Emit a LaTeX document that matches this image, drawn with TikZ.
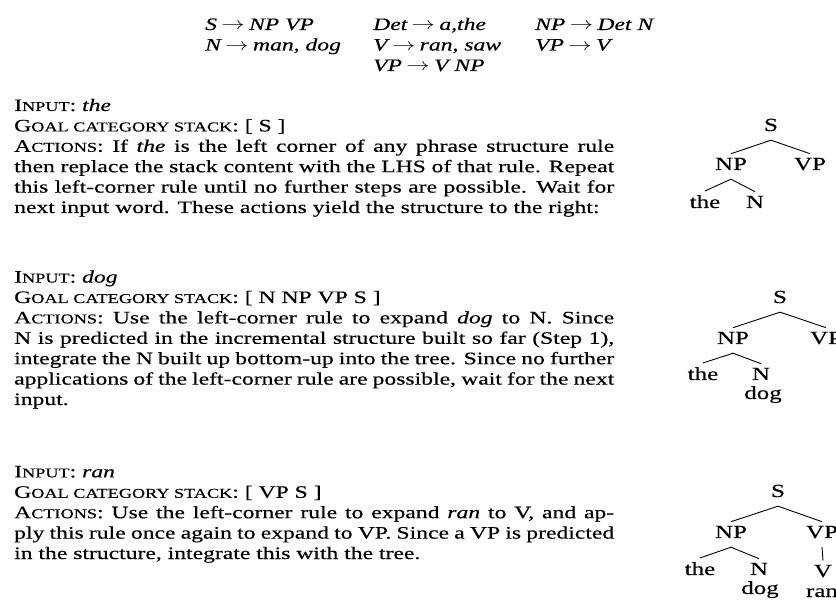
\documentclass[tikz,border=0pt]{standalone}
\usepackage{fontspec}
\usepackage{graphicx}
\setmainfont[FakeStretch=1.35,FakeBold=0.4]{Liberation Serif}
\newcommand{\smc}[1]{{\fontsize{13.5}{20.4}\selectfont #1}}
\newcommand{\arr}{\hspace{0.25em}\scalebox{1.35}[1]{$\rightarrow$}\hspace{0.25em}}
\newcommand{\jl}[1]{\makebox[600pt][s]{#1}}

\begin{document}
\begin{tikzpicture}[x=1pt,y=-1pt]
\tikzset{txt/.style={anchor=base west, inner sep=0pt, align=left, font=\fontsize{17.5}{20.4}\selectfont},
  gram/.style={anchor=base west, inner sep=0pt, font=\fontsize{17.5}{20.4}\selectfont\itshape},
  cat/.style={anchor=base, inner xsep=0pt, inner ysep=4pt, text depth=5pt, font=\fontsize{18.5}{20}\selectfont},
  branch/.style={line width=0.9pt}}
\useasboundingbox (0,0) rectangle (836,601);

% grammar
\node[gram] (g1) at (205,30) {S\arr NP VP};
\node[gram] (g2) at (373,30) {Det\arr a,the};
\node[gram] (g3) at (535,30) {NP\arr Det N};
\node[gram] (g4) at (205,50.5) {N\arr man, dog};
\node[gram] (g5) at (373,50.5) {V\arr ran, saw};
\node[gram] (g6) at (535,50.5) {VP\arr V};
\node[gram] (g7) at (373,71) {VP\arr V NP};

% step 1 (anchored on the last line)
\node[txt] (b1) at (14,213) {I\smc{NPUT}: \textit{the}\\
  G\smc{OAL CATEGORY STACK}: [ S ]\\
  \jl{A\smc{CTIONS}: If \textit{the} is the left corner of any phrase structure rule}\\
  \jl{then replace the stack content with the LHS of that rule. Repeat}\\
  \jl{this left-corner rule until no further steps are possible. Wait for}\\
  next input word. These actions yield the structure to the right:};
\node[cat] (s1) at (771,131) {S};
\node[cat] (np1) at (731,170) {NP};
\node[cat] (vp1) at (810,170) {VP};
\node[cat] (the1) at (705,208) {the};
\node[cat] (n1) at (755,208) {N};
\draw[branch] (np1.north) -- (s1.south) -- (vp1.north);
\draw[branch] (the1.north) -- (np1.south) -- (n1.north);

% step 2
\node[txt] (b2) at (14,405) {I\smc{NPUT}: \textit{dog}\\
  G\smc{OAL CATEGORY STACK}: [ N NP VP S ]\\
  \jl{A\smc{CTIONS}: Use the left-corner rule to expand \textit{dog} to N. Since}\\
  \jl{N is predicted in the incremental structure built so far (Step 1),}\\
  \jl{integrate the N built up bottom-up into the tree. Since no further}\\
  \jl{applications of the left-corner rule are possible, wait for the next}\\
  input.};
\node[cat] (s2) at (780,303) {S};
\node[cat] (np2) at (733,344) {NP};
\node[cat] (vp2) at (826,344) {VP};
\node[cat] (the2) at (703,380) {the};
\node[cat] (n2) at (761,380) {N};
\node[cat] (dog2) at (763,399) {dog};
\draw[branch] (np2.north) -- (s2.south) -- (vp2.north);
\draw[branch] (the2.north) -- (np2.south) -- (n2.north);

% step 3
\node[txt] (b3) at (14,559) {I\smc{NPUT}: \textit{ran}\\
  G\smc{OAL CATEGORY STACK}: [ VP S ]\\
  \jl{A\smc{CTIONS}: Use the left-corner rule to expand \textit{ran} to V, and ap-}\\
  \jl{ply this rule once again to expand to VP. Since a VP is predicted}\\
  in the structure, integrate this with the tree.};
\node[cat] (s3) at (778,497) {S};
\node[cat] (np3) at (731,538) {NP};
\node[cat] (vp3) at (822,538) {VP};
\node[cat] (the3) at (700,575) {the};
\node[cat] (n3) at (759,575) {N};
\node[cat] (v3) at (823,577) {V};
\node[cat] (dog3) at (760,594) {dog};
\node[cat] (ran3) at (822,597) {ran};
\draw[branch] (np3.north) -- (s3.south) -- (vp3.north);
\draw[branch] (the3.north) -- (np3.south) -- (n3.north);
\draw[branch] (vp3.south) -- (v3.north);
\end{tikzpicture}
\end{document}
